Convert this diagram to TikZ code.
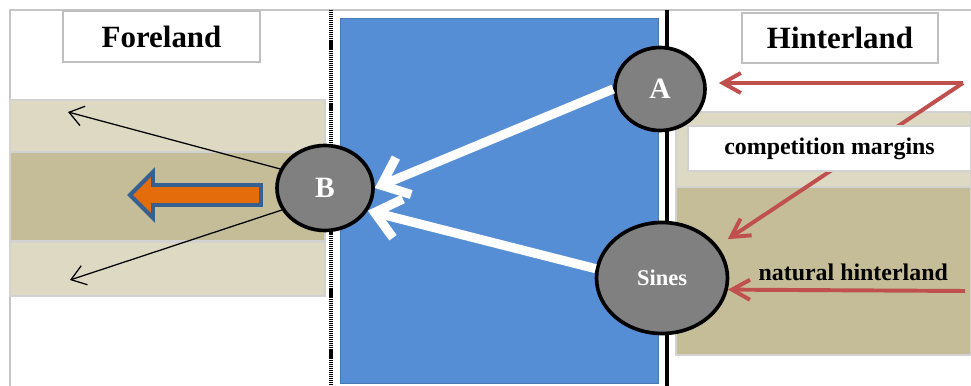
\documentclass[tikz,border=0pt]{standalone}
\usepackage{fontspec}
\setmainfont{Liberation Serif}
\usepackage{tikz}
\usetikzlibrary{arrows.meta, shapes, positioning}
\definecolor{lightband}{HTML}{DDD9C3}
\definecolor{deepband}{HTML}{C4BD97}
\definecolor{sea}{HTML}{558ED5}
\definecolor{landflow}{HTML}{C0504D}
\definecolor{outorange}{HTML}{E46C0A}
\definecolor{outblue}{HTML}{376092}
\tikzstyle{frame} = [draw=gray!45, line width=1pt]
\tikzstyle{strip} = [draw=gray!35, line width=0.8pt, inner sep=0, outer sep=0]
\tikzstyle{title} = [draw=gray!50, line width=1pt, fill=white, inner sep=0,
                     font=\bfseries\fontsize{22}{22}\selectfont]
\tikzstyle{label} = [inner sep=0, font=\bfseries\fontsize{17}{17}\selectfont]
\tikzstyle{port} = [ellipse, draw=black, line width=2.6pt, fill=gray, text=white, inner sep=0,
                    font=\bfseries\fontsize{21}{21}\selectfont]
\tikzstyle{divide} = [draw=black, line width=2.2pt, dash pattern=on 0.8pt off 0.6pt]
\tikzstyle{seaward} = [draw=white, line width=6.5pt, -{Straight Barb[length=6mm, width=10mm]}]
\tikzstyle{spread} = [draw=black, line width=0.9pt, -{Straight Barb[length=3.5mm, width=5mm]}]
\tikzstyle{landward} = [draw=landflow, line width=2.8pt, -{Straight Barb[length=4.5mm, width=5mm]}]
\tikzstyle{outflow} = [draw=outblue, fill=outorange, line width=2.8pt, line join=miter]

\begin{document}
\begin{tikzpicture}
	\useasboundingbox (0, 0) rectangle (24.275, -9.65);

	\draw [frame] (0.25, -9.65) -- (0.25, -0.25) -- (24.275, -0.25);

	% foreland side
	\node (ForeTop) [strip, fill=lightband, minimum width=7.875cm, minimum height=1.3cm] at (4.1875, -3.15) {};
	\node (ForeMid) [strip, fill=deepband, minimum width=7.875cm, minimum height=2.225cm] at (4.1875, -4.9125) {};
	\node (ForeLow) [strip, fill=lightband, minimum width=7.875cm, minimum height=1.35cm] at (4.1875, -6.725) {};
	\node (Foreland) [title, minimum width=4.925cm, minimum height=1.275cm] at (4.0375, -0.9125) {Foreland};

	% hinterland side
	\node (HintTop) [strip, fill=lightband, minimum width=7.375cm, minimum height=1.875cm] at (20.5875, -3.7375) {};
	\node (HintMid) [strip, fill=deepband, minimum width=7.375cm, minimum height=4.2cm] at (20.5875, -6.775) {};
	\node (Hinterland) [title, minimum width=4.9cm, minimum height=1.25cm] at (21.0, -0.95) {Hinterland};

	% the sea
	\node (Sea) [fill=sea, draw=sea!85!black, line width=0.6pt, minimum width=7.95cm, minimum height=9.125cm] at (12.475, -5.0125) {};

	\coordinate (DotTop) at (8.275, -0.25);
	\coordinate (DotLow) at (8.275, -9.65);
	\draw [divide] (DotTop) -- (DotLow);
	\coordinate (EdgeTop) at (16.675, -0.25);
	\coordinate (EdgeLow) at (16.675, -9.65);
	\draw [line width=2.2pt] (EdgeTop) -- (EdgeLow);

	% ports
	\node (A) [port, minimum width=2.25cm, minimum height=2.075cm] at (16.5, -2.225) {A};
	\node (B) [port, minimum width=2.4cm, minimum height=2.125cm] at (8.125, -4.7) {B};
	\node (Sines) [port, minimum width=3.275cm, minimum height=2.775cm,
	               font=\bfseries\fontsize{16}{16}\selectfont] at (16.55, -6.95) {Sines};

	\draw [seaward] (A.west) -- (B.east);
	\draw [seaward] (Sines.172) -- (B.-28);

	\coordinate (ForeUp) at (1.7, -2.8);
	\coordinate (ForeDown) at (1.75, -7.0);
	\draw [spread] (B.157) -- (ForeUp);
	\draw [spread] (B.-153) -- (ForeDown);

	\coordinate (FlowTip) at (3.25, -4.875);
	\draw [outflow] (FlowTip) -- ++(0.575, 0.575) -- ++(0, -0.325) -- ++(2.7, 0) -- ++(0, -0.5)
	                -- ++(-2.7, 0) -- ++(0, -0.325) -- cycle;

	% competition margins
	\coordinate (RedTop) at (24.075, -2.075);
	\draw [landward] (RedTop) -- (RedTop -| A.east) [shorten >=0.3cm];
	\draw [landward, shorten >=0.3cm] (RedTop) -- (Sines.30);
	\node (Margins) [label, fill=white, draw=gray!35, line width=0.8pt,
	                 minimum width=7.075cm, minimum height=1.125cm] at (20.7375, -3.7125) {competition margins};

	% natural hinterland
	\coordinate (RedLow) at (24.125, -7.275);
	\draw [landward] (RedLow) -- (Sines.-10);
	\node (Natural) [label] at (21.33, -6.8) {natural hinterland};
\end{tikzpicture}
\end{document}
